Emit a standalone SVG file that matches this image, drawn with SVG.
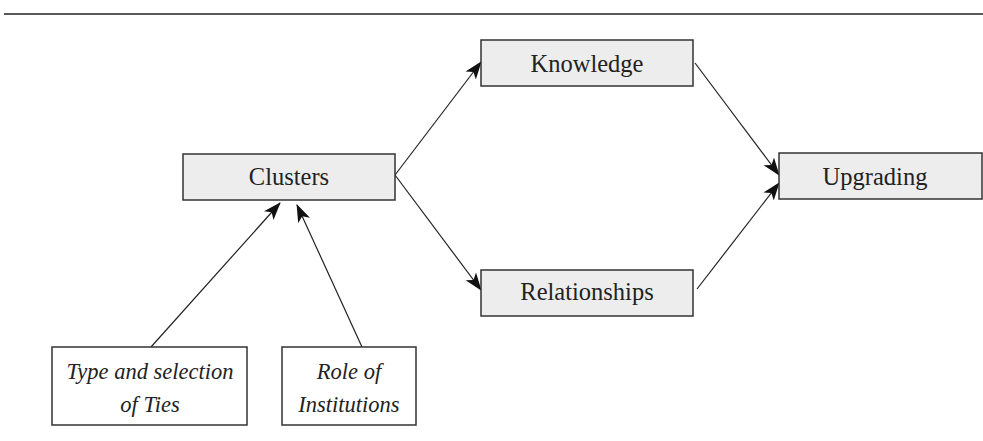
<svg xmlns="http://www.w3.org/2000/svg" width="983" height="441" viewBox="0 0 983 441">
<style>
.box{fill:#ededed;stroke:#333;stroke-width:1.5}
.wbox{fill:#fff;stroke:#333;stroke-width:1.5}
.t{font-family:"Liberation Serif","Times New Roman",serif;font-size:24.5px;fill:#222;text-anchor:middle}
.ti{font-family:"Liberation Serif","Times New Roman",serif;font-size:22.5px;font-style:italic;fill:#222;text-anchor:middle}
.c{stroke:#222;stroke-width:1.2;fill:none;marker-end:url(#ah)}
</style>
<defs>
<marker id="ah" markerWidth="18" markerHeight="14" refX="17" refY="7" orient="auto" markerUnits="userSpaceOnUse">
<path d="M0,0.5 L18,7 L0,13.5 L4.5,7 z" fill="#111"/>
</marker>
</defs>
<line x1="4" y1="14" x2="983" y2="14" stroke="#222" stroke-width="1.5"/>
<g id="connectors">
<line class="c" x1="395" y1="175" x2="481" y2="62"/>
<line class="c" x1="395" y1="175" x2="481" y2="290"/>
<line class="c" x1="695" y1="63" x2="779" y2="175"/>
<line class="c" x1="697" y1="289" x2="779" y2="183"/>
<line class="c" x1="151" y1="347" x2="280" y2="203"/>
<line class="c" x1="362" y1="347" x2="297" y2="205"/>
</g>
<g id="clusters"><rect class="box" x="183" y="154" width="212" height="46"/><text class="t" x="289" y="185">Clusters</text></g>
<g id="knowledge"><rect class="box" x="481" y="40" width="212" height="46"/><text class="t" x="587" y="72">Knowledge</text></g>
<g id="relationships"><rect class="box" x="481" y="270" width="212" height="46"/><text class="t" x="587" y="300">Relationships</text></g>
<g id="upgrading"><rect class="box" x="779" y="153" width="203" height="46"/><text class="t" x="875" y="185">Upgrading</text></g>
<g id="ties"><rect class="wbox" x="52" y="347" width="195" height="78"/><text class="ti" x="150" y="379">Type and selection</text><text class="ti" x="150" y="412">of Ties</text></g>
<g id="institutions"><rect class="wbox" x="282" y="347" width="134" height="78"/><text class="ti" x="349" y="379">Role of</text><text class="ti" x="349" y="412">Institutions</text></g>
</svg>
